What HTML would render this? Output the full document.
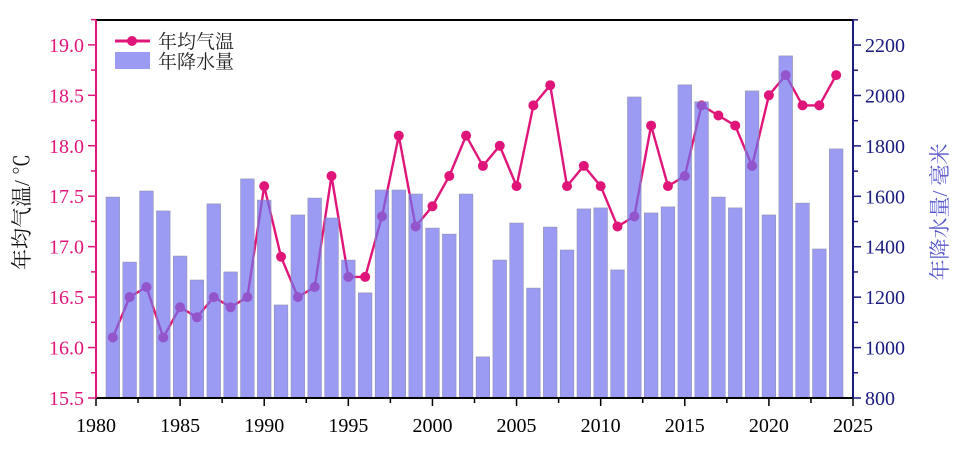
<!DOCTYPE html>
<html><head><meta charset="utf-8"><style>body{margin:0;background:#fff}svg{display:block}</style></head>
<body>
<svg id="s" width="959" height="459" xmlns="http://www.w3.org/2000/svg" font-family="Liberation Serif, Noto Serif CJK SC, serif"></svg>
<script>
const T=[16.1,16.5,16.6,16.1,16.4,16.3,16.5,16.4,16.5,17.6,16.9,16.5,16.6,17.7,16.7,16.7,17.3,18.1,17.2,17.4,17.7,18.1,17.8,18.0,17.6,18.4,18.6,17.6,17.8,17.6,17.2,17.3,18.2,17.6,17.7,18.4,18.3,18.2,17.8,18.5,18.7,18.4,18.4,18.7];
const P=[1597,1339,1621,1542,1363,1268,1570,1300,1669,1585,1169,1526,1593,1514,1347,1217,1625,1625,1609,1474,1450,1609,963,1347,1494,1236,1478,1387,1550,1554,1308,1994,1534,1558,2042,1975,1597,1554,2018,1526,2157,1573,1391,1788];
const L=96,R=853,B=398,TP=20;
const X=y=>L+(y-1980)*(R-L)/45;
const YT=v=>B-(v-15.5)*100.9;
const YP=v=>B-(v-800)*0.2521;
let s='';
let pts=T.map((t,i)=>X(1981+i).toFixed(1)+','+YT(t).toFixed(1)).join(' ');
s+=`<polyline points="${pts}" fill="none" stroke="#e0157a" stroke-width="2.4"/>`;
T.forEach((t,i)=>{s+=`<circle cx="${X(1981+i)}" cy="${YT(t)}" r="5" fill="#e0157a"/>`});
P.forEach((p,i)=>{const x=X(1981+i);s+=`<rect x="${x-6.8}" y="${YP(p)}" width="13.6" height="${B-YP(p)}" fill="rgb(112,112,240)" fill-opacity="0.7" stroke="#9090b0" stroke-width="0.6"/>`});
s+=`<line x1="${L}" y1="${TP}" x2="${R}" y2="${TP}" stroke="#000" stroke-width="2"/>`;
s+=`<line x1="${L}" y1="${B}" x2="${R}" y2="${B}" stroke="#000" stroke-width="2"/>`;
s+=`<line x1="${L}" y1="${TP}" x2="${L}" y2="${B}" stroke="#e0157a" stroke-width="2"/>`;
s+=`<line x1="${R}" y1="${TP}" x2="${R}" y2="${B}" stroke="#1a1a80" stroke-width="2"/>`;
for(let y=1980;y<=2025;y+=2.5){const x=X(y),maj=y%5==0;s+=`<line x1="${x}" y1="${B}" x2="${x}" y2="${B+(maj?8:5)}" stroke="#000" stroke-width="1.5"/>`;if(maj)s+=`<text x="${x}" y="${B+34}" font-size="20" text-anchor="middle" fill="#000">${y}</text>`}
for(let v=15.5;v<=19.26;v+=0.25){const y=YT(v),maj=Math.abs(v*2-Math.round(v*2))<1e-6;s+=`<line x1="${L-(maj?8:5)}" y1="${y}" x2="${L}" y2="${y}" stroke="#e0157a" stroke-width="1.5"/>`;if(maj)s+=`<text x="${L-12}" y="${y+7}" font-size="20" text-anchor="end" fill="#e0157a">${v.toFixed(1)}</text>`}
for(let v=800;v<=2300;v+=100){const y=YP(v),maj=v%200==0;s+=`<line x1="${R}" y1="${y}" x2="${R+(maj?8:5)}" y2="${y}" stroke="#1a1a80" stroke-width="1.5"/>`;if(maj)s+=`<text x="${R+12}" y="${y+7}" font-size="20" fill="#1a1a80">${v}</text>`}
s+=`<text transform="translate(29,212) rotate(-90)" font-size="21" text-anchor="middle" fill="#111">年均气温/ ℃</text>`;
s+=`<text transform="translate(947,212) rotate(-90)" font-size="21" text-anchor="middle" fill="#5555cc">年降水量/ 毫米</text>`;
s+=`<line x1="115" y1="41" x2="150" y2="41" stroke="#e0157a" stroke-width="3"/><circle cx="132" cy="41" r="5" fill="#e0157a"/>`;
s+=`<text x="158" y="48" font-size="19" fill="#222">年均气温</text>`;
s+=`<rect x="115" y="52" width="35" height="17" fill="rgb(112,112,240)" fill-opacity="0.7"/>`;
s+=`<text x="158" y="68" font-size="19" fill="#222">年降水量</text>`;
document.getElementById('s').innerHTML=s;
</script>
</body></html>
